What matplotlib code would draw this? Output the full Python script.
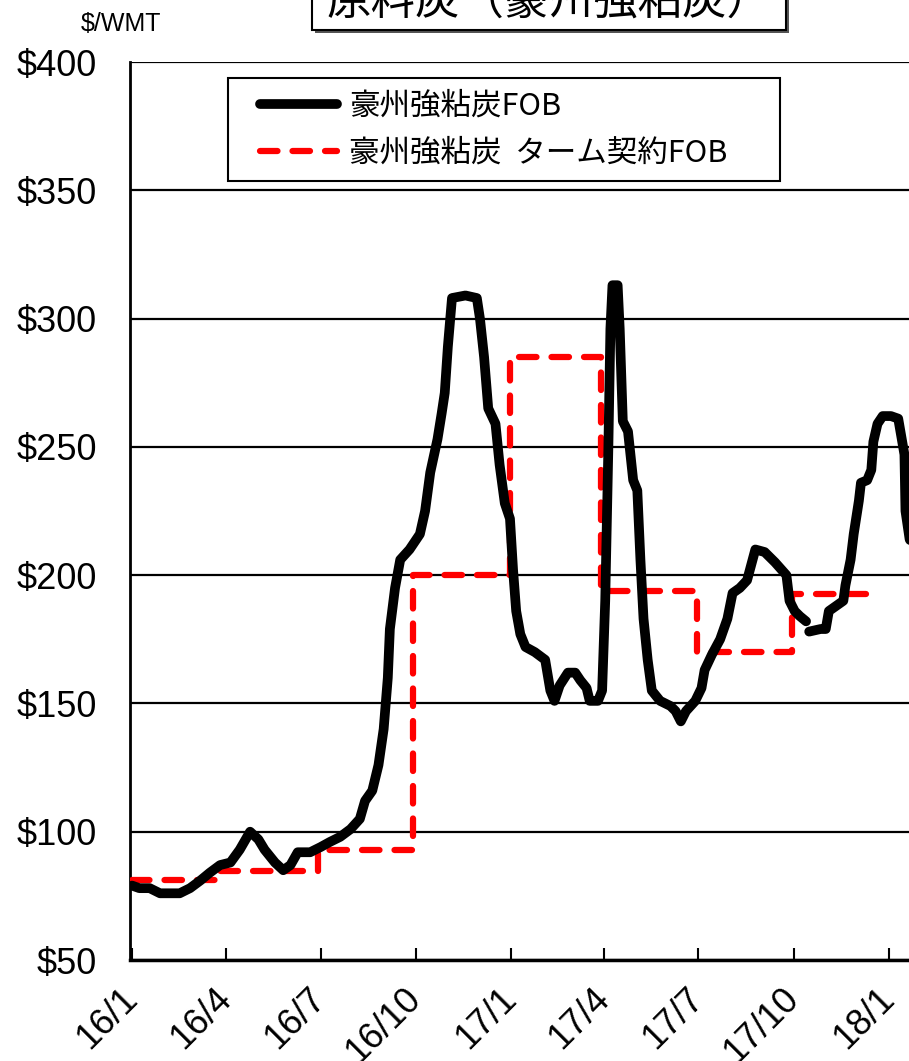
import matplotlib
matplotlib.use("Agg")
import matplotlib.pyplot as plt
from matplotlib.patches import Rectangle
from matplotlib.legend_handler import HandlerLine2D
import numpy as np
import pandas as pd

# ---- data ----
fob_dates = [
    "2016-01-01", "2016-01-08", "2016-01-18", "2016-01-28", "2016-02-16", "2016-02-26",
    "2016-03-07", "2016-03-16", "2016-03-26", "2016-04-05", "2016-04-14", "2016-04-24",
    "2016-05-02", "2016-05-08", "2016-05-18", "2016-05-26", "2016-06-02", "2016-06-09",
    "2016-06-21", "2016-07-01", "2016-07-10", "2016-07-20", "2016-07-30", "2016-08-08",
    "2016-08-13", "2016-08-20", "2016-08-26", "2016-08-31", "2016-09-04", "2016-09-06",
    "2016-09-11", "2016-09-16", "2016-09-25", "2016-10-05", "2016-10-10", "2016-10-15",
    "2016-10-22", "2016-10-26", "2016-10-29", "2016-11-01", "2016-11-05", "2016-11-18",
    "2016-11-29", "2016-12-02", "2016-12-06", "2016-12-10", "2016-12-17", "2016-12-21",
    "2016-12-26", "2016-12-31", "2017-01-03", "2017-01-06", "2017-01-10", "2017-01-15",
    "2017-01-24", "2017-02-03", "2017-02-08", "2017-02-12", "2017-02-17", "2017-02-25",
    "2017-03-04", "2017-03-09", "2017-03-15", "2017-03-18", "2017-03-26", "2017-03-30",
    "2017-04-02", "2017-04-05", "2017-04-07", "2017-04-09", "2017-04-14", "2017-04-16",
    "2017-04-19", "2017-04-24", "2017-04-29", "2017-05-03", "2017-05-06", "2017-05-09",
    "2017-05-13", "2017-05-17", "2017-05-25", "2017-06-04", "2017-06-09", "2017-06-14",
    "2017-06-19", "2017-06-28", "2017-07-04", "2017-07-07", "2017-07-14", "2017-07-22",
    "2017-07-29", "2017-08-03", "2017-08-10", "2017-08-17", "2017-08-25", "2017-09-03",
    "2017-09-13", "2017-09-24", "2017-09-27", "2017-10-02", "2017-10-07", "2017-10-13",
    "2017-10-14", "2017-10-16", "2017-10-27", "2017-11-01", "2017-11-04", "2017-11-11",
    "2017-11-18", "2017-11-20", "2017-11-25", "2017-11-28", "2017-12-03", "2017-12-05",
    "2017-12-11", "2017-12-15", "2017-12-17", "2017-12-21", "2017-12-26", "2018-01-03",
    "2018-01-10", "2018-01-16", "2018-01-17", "2018-01-21", "2018-01-28",
]
fob_price = [
    79, 78, 78, 76, 76, 78,
    81, 84, 87, 88, 93, 100,
    97, 93, 88, 85, 87, 92,
    92, 94, 96, 98, 101, 105,
    112, 116, 126, 140, 160, 179,
    195, 206, 210, 216, 225, 240,
    253, 263, 271, 289, 308, 309,
    308, 300, 285, 265, 259, 243,
    228, 222, 202, 186, 177, 172,
    170, 167, 155, 151, 157, 162,
    162, 159, 156, 151, 151, 155,
    190, 249, 296, 313, 313, 296,
    260, 256, 237, 233, 206, 183,
    167, 155, 151, 149, 147, 143,
    147, 151, 156, 163, 169, 175,
    183, 193, 195, 198, 210, 209,
    205, 200, 190, 186, 184, 182,
    np.nan, 178, 179, 179, 186, 188,
    190, 196, 206, 216, 229, 236,
    237, 241, 252, 259, 262, 262,
    261, 247, 225, 214, 208,
]

term_dates = ["2016-01-01", "2016-03-26", "2016-06-29", "2016-09-28", "2016-12-31",
              "2017-03-29", "2017-06-30", "2017-09-29", "2017-12-19"]
term_price = [81, 84.5, 93, 200, 285, 194, 170, 192.5, 192.5]

quarter_ticks = pd.date_range("2016-01-01", "2018-01-01", freq="QS")
y_ticks = [50, 100, 150, 200, 250, 300, 350, 400]

fob_label = "豪州強粘炭FOB"
term_label = "豪州強粘炭  ターム契約FOB"
title_text = "原料炭（豪州強粘炭）"
unit_text = "$/WMT"

cjk = ["Noto Sans CJK JP", "DejaVu Sans"]
latin = "Liberation Sans"

W, H = 909, 1061
fig = plt.figure(figsize=(W / 100, H / 100), dpi=100)

# axes run past the right edge of the picture, like the cropped original
ax = fig.add_axes([130 / W, 101 / H, 791 / W, 898 / H])

ax.plot(pd.to_datetime(term_dates), term_price, color="#ff0000", lw=4.5,
        drawstyle="steps-post", dashes=(2.8, 2.4), dash_capstyle="round",
        solid_joinstyle="round", label=term_label, zorder=3)
ax.plot(pd.to_datetime(fob_dates), fob_price, color="black", lw=7,
        solid_capstyle="round", solid_joinstyle="round", label=fob_label, zorder=4)

ax.set_ylim(50, 400)
ax.set_xlim(pd.Timestamp("2015-12-30"), pd.Timestamp("2018-02-01"))
ax.set_yticks(y_ticks)
ax.set_yticklabels(["$%d" % v for v in y_ticks], fontsize=26, family=latin)
ax.set_xticks(quarter_ticks)
ax.set_xticklabels(["%d/%d" % (d.year % 100, d.month) for d in quarter_ticks],
                   fontsize=26, family=latin, rotation=45, ha="right", va="center",
                   rotation_mode="anchor")
ax.tick_params(axis="y", length=0, pad=24)
ax.tick_params(axis="x", direction="in", length=9, width=1.5, pad=24)
ax.yaxis.grid(True, color="black", lw=1.6)
ax.set_axisbelow(True)
for s in ["top", "right"]:
    ax.spines[s].set_visible(False)
ax.spines["left"].set_linewidth(2)
ax.spines["bottom"].set_linewidth(2.5)

# legend
h, l = ax.get_legend_handles_labels()
leg = ax.legend(h[::-1], l[::-1], loc="upper left", borderaxespad=0, mode="expand",
                bbox_to_anchor=(228 / W, 1 - 78 / H, 552 / W, 0),
                bbox_transform=fig.transFigure,
                prop={"family": cjk, "size": 22}, frameon=True, fancybox=False,
                edgecolor="black", borderpad=0.4, labelspacing=0.55,
                handlelength=3.17, handletextpad=0.4,
                handler_map={h[0]: HandlerLine2D(xpad=0.65), h[1]: HandlerLine2D(xpad=0.65)})
leg.get_frame().set_linewidth(1.5)
leg.get_frame().set_alpha(1)

# title box, cut off by the top edge
fig.add_artist(Rectangle((315 / W, 1 - 33 / H), 474 / W, 80 / H, transform=fig.transFigure,
                         facecolor="#555555", edgecolor="none", zorder=5))
fig.add_artist(Rectangle((312 / W, 1 - 30 / H), 474 / W, 80 / H, transform=fig.transFigure,
                         facecolor="white", edgecolor="black", lw=1.5, zorder=6))
fig.text(549 / W, 1 - 14 / H, title_text, family=cjk, fontsize=32,
         ha="center", va="baseline", zorder=7)

fig.text(121 / W, 1 - 24 / H, unit_text, family=latin, fontsize=18, ha="center", va="center")

fig.savefig("out.png", dpi=100)
